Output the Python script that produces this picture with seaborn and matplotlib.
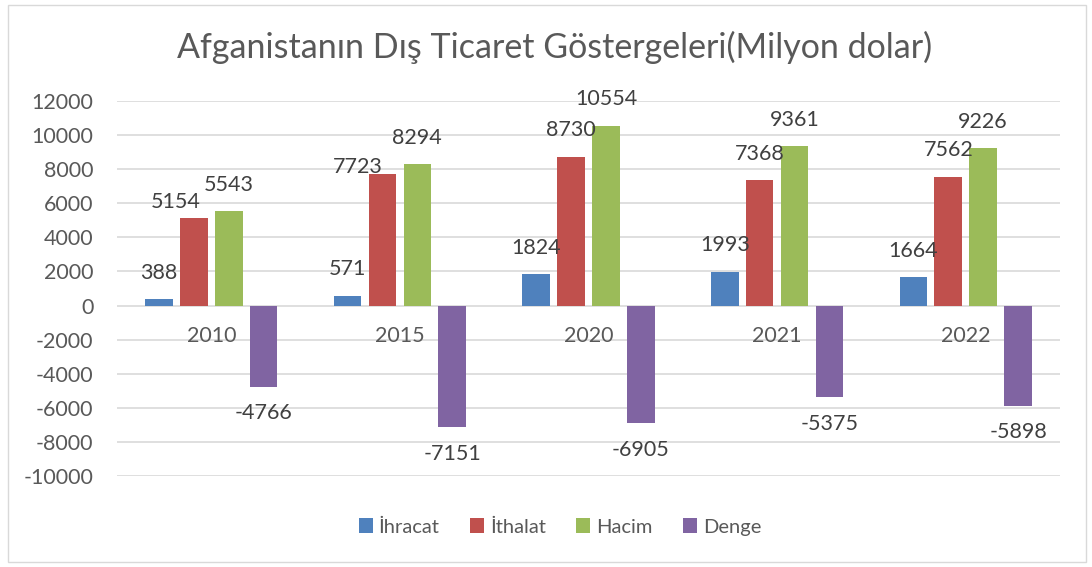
import matplotlib
matplotlib.use("Agg")
import matplotlib.pyplot as plt
import seaborn as sns
import pandas as pd
from matplotlib.patches import Rectangle

years = ["2010", "2015", "2020", "2021", "2022"]
series = ["İhracat", "İthalat", "Hacim", "Denge"]
ihracat = [388, 571, 1824, 1993, 1664]
ithalat = [5154, 7723, 8730, 7368, 7562]
hacim = [5543, 8294, 10554, 9361, 9226]
denge = [-4766, -7151, -6905, -5375, -5898]
colors = ["#4F81BD", "#C0504D", "#9BBB59", "#8064A2"]
title = "Afganistanın Dış Ticaret Göstergeleri(Milyon dolar)"

# manual label nudges (pixels) as in the reference, to avoid label collisions
label_nudge = {("İthalat", 0): (-18, -11), ("İthalat", 1): (-25, -19)}

rows = []
for s, vals in zip(series, [ihracat, ithalat, hacim, denge]):
    for y, v in zip(years, vals):
        rows.append({"Yıl": y, "Seri": s, "Değer": v})
df = pd.DataFrame(rows)

sns.set_theme(style="white")
plt.rcParams["font.family"] = ["Lato", "DejaVu Sans"]
txt = "#595959"

fig = plt.figure(figsize=(10.92, 5.67), dpi=100)
ax = fig.add_axes([117 / 1092, 1 - 476 / 567, (1060 - 117) / 1092, (476 - 101) / 567])

sns.barplot(data=df, x="Yıl", y="Değer", hue="Seri", order=years, hue_order=series,
            palette=colors, width=0.74, gap=0.21, ax=ax, legend=True, saturation=1,
            errorbar=None, linewidth=0)

ax.set_ylim(-10000, 12000)
ax.set_yticks(range(-10000, 12001, 2000))
ax.set_yticklabels([str(v) for v in range(-10000, 12001, 2000)], fontsize=15.5, color=txt)
ax.tick_params(axis="y", length=0, pad=17)
ax.set_xticks([])
ax.set_xlabel("")
ax.set_ylabel("")
ax.grid(axis="y", color="#D9D9D9", linewidth=1.2)
ax.set_axisbelow(True)
for sp in ax.spines.values():
    sp.set_visible(False)

# data labels
px = 72 / 100  # points per pixel
for s, cont in zip(series, ax.containers):
    for i, bar in enumerate(cont):
        h = bar.get_height()
        x = bar.get_x() + bar.get_width() / 2
        off = 19 if h >= 0 else -19
        dx, dy = label_nudge.get((s, i), (0, 0))
        ax.annotate(f"{int(round(h))}", (x, h), xytext=(dx * px, off + dy * px),
                    textcoords="offset points", ha="center", va="center",
                    fontsize=15.5, color="#404040")

# category labels near zero line
for i, y in enumerate(years):
    ax.annotate(y, (i, 0), xytext=(0, -22), textcoords="offset points",
                ha="center", va="center", fontsize=15.5, color=txt)

ax.set_xlim(-0.5, len(years) - 0.5)

handles, labels = ax.get_legend_handles_labels()
ax.legend_.remove()
fig.legend(handles, labels, loc="center", bbox_to_anchor=(560 / 1092, 1 - 527 / 567), ncol=4,
           frameon=False, fontsize=14.5, handlelength=0.7, handleheight=0.7,
           handletextpad=0.3, columnspacing=1.5, labelcolor=txt)

fig.text(555 / 1092, 1 - 47 / 567, title, ha="center", va="center", fontsize=24.5, color=txt)

fig.patches.append(Rectangle((8 / 1092, 5 / 567), 1078 / 1092, 557 / 567,
                             transform=fig.transFigure, fill=False,
                             edgecolor="#D9D9D9", linewidth=1))

fig.savefig("out.png", dpi=100)
